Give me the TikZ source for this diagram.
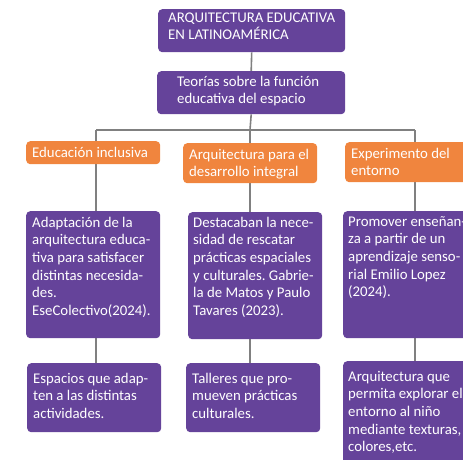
\documentclass[tikz,border=0pt]{standalone}
\usepackage{fontspec}
\setmainfont{Carlito}
\usetikzlibrary{backgrounds}
\definecolor{morado}{RGB}{101,67,154}
\definecolor{naranja}{RGB}{240,133,62}
\definecolor{gris}{RGB}{128,128,128}
\frenchspacing
\newcommand{\fuente}{\fontsize{14.8pt}{17.6pt}\selectfont}
% caja de texto: ancho, alto, bajada de la primera linea, texto
\newcommand{\bloque}[4]{\parbox[t][#2][t]{#1}{\raggedright\rule{0pt}{#3}\ignorespaces#4}}
\tikzset{
  caja/.style={rounded corners=4pt, inner ysep=0pt, inner xsep=6pt, anchor=north west, text=white, font=\fuente},
  morado/.style={caja, fill=morado},
  naranja/.style={caja, fill=naranja},
  linea/.style={draw=gris, line width=1.6pt}
}
\begin{document}
\begin{tikzpicture}[x=1pt,y=-1pt]
\useasboundingbox (0,0) rectangle (463,460);
% nivel 1 y 2
\node[morado, inner xsep=10pt] (titulo) at (158,9) {\bloque{167pt}{43pt}{13pt}{ARQUITECTURA EDUCATIVA\\EN LATINOAMÉRICA}};
\node[morado, inner xsep=20pt] (teorias) at (157,71) {\bloque{148pt}{43pt}{15pt}{Teorías sobre la función\\educativa del espacio}};
% ramas
\node[naranja] (inclusiva) at (26,141) {\bloque{122pt}{23pt}{16pt}{Educación inclusiva}};
\node[naranja] (integral) at (183,143) {\bloque{122pt}{40pt}{16pt}{Arquitectura para el\\desarrollo integral}};
\node[naranja] (entorno) at (345,142) {\bloque{150pt}{40pt}{16pt}{Experimento del\\entorno}};
% descripciones
\node[morado] (adapta) at (26,211) {\bloque{122pt}{127pt}{16pt}{Adaptación de la\\arquitectura educa-\\tiva para satisfacer\\distintas necesida-\\des.\\EseColectivo(2024).}};
\node[morado, inner xsep=5pt] (rescate) at (188,212) {\bloque{124pt}{127pt}{15pt}{Destacaban la nece-\\sidad de rescatar\\prácticas espaciales\\y culturales. Gabrie-\\la de Matos y Paulo\\Tavares (2023).}};
\node[morado, inner xsep=5pt] (sensorial) at (343,211) {\bloque{150pt}{127pt}{15pt}{Promover enseñan-\\za a partir de un\\aprendizaje senso-\\rial Emilio Lopez\\(2024).}};
% ejemplos
\node[morado] (espacios) at (27,363) {\bloque{122pt}{69pt}{20pt}{Espacios que adap-\\ten a las distintas\\actividades.}};
\node[morado] (talleres) at (186,363) {\bloque{122pt}{69pt}{20pt}{Talleres que pro-\\mueven prácticas\\culturales.}};
\node[morado, inner xsep=5pt] (texturas) at (343,361) {\bloque{150pt}{150pt}{20pt}{Arquitectura que\\permita explorar el\\entorno al niño\\mediante texturas,\\colores,etc.}};
% conectores
\coordinate (ramaA) at (96,130);
\coordinate (ramaB) at (250,130);
\coordinate (ramaC) at (415,130);
\begin{scope}[on background layer]
\draw[linea] (titulo.south) -- (teorias.north);
\draw[linea] (teorias.south) -- (ramaB);
\draw[linea] (ramaA) -- (ramaC);
\draw[linea] (ramaA) -- (ramaA |- espacios.north);
\draw[linea] (ramaB) -- (ramaB |- talleres.north);
\draw[linea] (ramaC) -- (ramaC |- texturas.north);
\end{scope}
\end{tikzpicture}
\end{document}
